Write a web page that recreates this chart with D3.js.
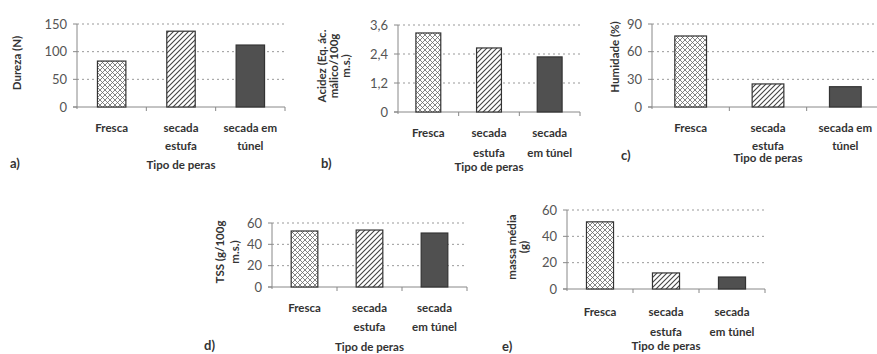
<!DOCTYPE html>
<html>
<head>
<meta charset="utf-8">
<script src="https://cdn.jsdelivr.net/npm/d3@7.9.0/dist/d3.min.js"></script>
<style>
  body { margin: 0; background: #fff; }
  svg { display: block; font-family: Lato, "Open Sans", sans-serif; }
  .tick-label { fill: #555; font-size: 13px; }
  .cat-label { fill: #333; font-size: 11.5px; font-weight: bold; }
  .x-title { fill: #333; font-size: 11.5px; font-weight: bold; }
  .y-title { fill: #333; font-size: 11.5px; font-weight: bold; }
  .panel-letter { fill: #333; font-size: 13px; font-weight: bold; }
</style>
</head>
<body>
<svg id="chart" width="877" height="354"></svg>
<script>
const categories = ['Fresca', 'secada estufa', 'secada em túnel'];

const dureza = [83, 137, 112];
const acidez = [3.27, 2.65, 2.28];
const humidade = [77, 25, 22];
const tss = [52.5, 53.4, 50.6];
const massa = [51, 12.2, 9.1];

const durezaTicks = [0, 50, 100, 150];
const acidezTicks = [0, 1.2, 2.4, 3.6];
const humidadeTicks = [0, 30, 60, 90];
const tssTicks = [0, 20, 40, 60];
const massaTicks = [0, 20, 40, 60];

const labelsA = [['Fresca'], ['secada', 'estufa'], ['secada em', 'túnel']];
const labelsB = [['Fresca'], ['secada', 'estufa'], ['secada', 'em túnel']];

const svg = d3.select('#chart');

// patterns
const defs = svg.append('defs');
const cross = defs.append('pattern')
  .attr('id', 'cross').attr('patternUnits', 'userSpaceOnUse')
  .attr('width', 5).attr('height', 5);
cross.append('rect').attr('width', 5).attr('height', 5).attr('fill', '#fff');
cross.append('path').attr('d', 'M0,0L5,5M5,0L0,5M-1,4L1,6M4,-1L6,1')
  .attr('stroke', '#666').attr('stroke-width', 0.8);

const hatch = defs.append('pattern')
  .attr('id', 'hatch').attr('patternUnits', 'userSpaceOnUse')
  .attr('width', 5).attr('height', 5);
hatch.append('rect').attr('width', 5).attr('height', 5).attr('fill', '#fff');
hatch.append('path').attr('d', 'M0,5L5,0M-1,1L1,-1M4,6L6,4')
  .attr('stroke', '#444').attr('stroke-width', 1.1);

const fills = ['url(#cross)', 'url(#hatch)', '#505050'];

function drawPanel(p) {
  const g = svg.append('g');
  const x = d3.scaleBand().domain(categories)
    .range([p.left, p.right]).paddingInner(0.59).paddingOuter(0.295);
  const y = d3.scaleLinear().domain([0, d3.max(p.ticks)]).range([p.bottom, p.top]);

  // gridlines
  g.selectAll('.grid').data(p.ticks.slice(1)).join('line')
    .attr('x1', p.left).attr('x2', p.right)
    .attr('y1', d => y(d)).attr('y2', d => y(d))
    .attr('stroke', '#999').attr('stroke-width', 1)
    .attr('stroke-dasharray', '2,3');

  // y axis
  g.append('line').attr('x1', p.left).attr('x2', p.left)
    .attr('y1', p.top).attr('y2', p.bottom + 2)
    .attr('stroke', '#888');
  g.selectAll('.ytick').data(p.ticks).join('line')
    .attr('x1', p.left - 4).attr('x2', p.left)
    .attr('y1', d => y(d)).attr('y2', d => y(d))
    .attr('stroke', '#888');
  g.selectAll('.ylab').data(p.ticks).join('text')
    .attr('class', 'tick-label')
    .attr('x', p.left - 10).attr('y', d => y(d)).attr('dy', '0.35em')
    .attr('text-anchor', 'end')
    .text(d => String(d).replace('.', ','));

  // x axis
  g.append('line').attr('x1', p.left - 4).attr('x2', p.right)
    .attr('y1', p.bottom).attr('y2', p.bottom).attr('stroke', '#888');
  const step = x.step();
  g.selectAll('.xtick').data(categories).join('line')
    .attr('x1', d => x(d) - step * x.paddingOuter() + step)
    .attr('x2', d => x(d) - step * x.paddingOuter() + step)
    .attr('y1', p.bottom).attr('y2', p.bottom + 4)
    .attr('stroke', '#888');

  // bars
  g.selectAll('.bar').data(p.values).join('rect')
    .attr('x', (d, i) => x(categories[i]))
    .attr('width', x.bandwidth())
    .attr('y', d => y(d))
    .attr('height', d => p.bottom - y(d))
    .attr('fill', (d, i) => fills[i])
    .attr('stroke', '#333').attr('stroke-width', 1.2);

  // category labels
  p.labels.forEach((lines, i) => {
    const cx = x(categories[i]) + x.bandwidth() / 2;
    lines.forEach((t, j) => {
      g.append('text').attr('class', 'cat-label')
        .attr('x', cx).attr('y', p.bottom + p.l1 + j * (p.l2 - p.l1))
        .attr('dy', '0.35em').attr('text-anchor', 'middle').text(t);
    });
  });

  // x title
  g.append('text').attr('class', 'x-title')
    .attr('x', (p.left + p.right) / 2)
    .attr('y', p.bottom + p.lt).attr('dy', '0.35em')
    .attr('text-anchor', 'middle').text('Tipo de peras');

  // y title
  p.yTitle.forEach((t, j) => {
    g.append('text').attr('class', 'y-title')
      .attr('transform', `translate(${p.yTitleX[j]},${p.yTitleY}) rotate(-90)`)
      .attr('dy', '0.35em').attr('text-anchor', 'middle').text(t);
  });

  // panel letter
  g.append('text').attr('class', 'panel-letter')
    .attr('x', p.letterX).attr('y', p.letterY).attr('dy', '0.35em')
    .text(p.letter);
}

drawPanel({ values: dureza, ticks: durezaTicks, labels: labelsA,
  left: 77, right: 285, top: 24, bottom: 107,
  l1: 21, l2: 39, lt: 58,
  yTitle: ['Dureza (N)'], yTitleX: [17], yTitleY: 63,
  letter: 'a)', letterX: 10, letterY: 163 });

drawPanel({ values: acidez, ticks: acidezTicks, labels: labelsA.map((l, i) => i === 2 ? ['secada', 'em túnel'] : l),
  left: 398, right: 580, top: 25, bottom: 112,
  l1: 21, l2: 41, lt: 55,
  yTitle: ['Acidez (Eq. ác.', 'málico/100g', 'm.s.)'], yTitleX: [322, 334, 346], yTitleY: 66,
  letter: 'b)', letterX: 321, letterY: 163 });

drawPanel({ values: humidade, ticks: humidadeTicks, labels: labelsA,
  left: 652, right: 884, top: 24, bottom: 107,
  l1: 21, l2: 39, lt: 51,
  yTitle: ['Humidade (%)'], yTitleX: [615], yTitleY: 57,
  letter: 'c)', letterX: 621, letterY: 155 });

drawPanel({ values: tss, ticks: tssTicks, labels: labelsB,
  left: 272, right: 467, top: 223, bottom: 287,
  l1: 21, l2: 40, lt: 60,
  yTitle: ['TSS (g/100g', 'm.s.)'], yTitleX: [220, 235], yTitleY: 252,
  letter: 'd)', letterX: 204, letterY: 345 });

drawPanel({ values: massa, ticks: massaTicks, labels: labelsB,
  left: 567, right: 765, top: 210, bottom: 289,
  l1: 23, l2: 43, lt: 57,
  yTitle: ['massa média', '(g)'], yTitleX: [512, 524], yTitleY: 247,
  letter: 'e)', letterX: 502, letterY: 346 });
</script>
</body>
</html>
